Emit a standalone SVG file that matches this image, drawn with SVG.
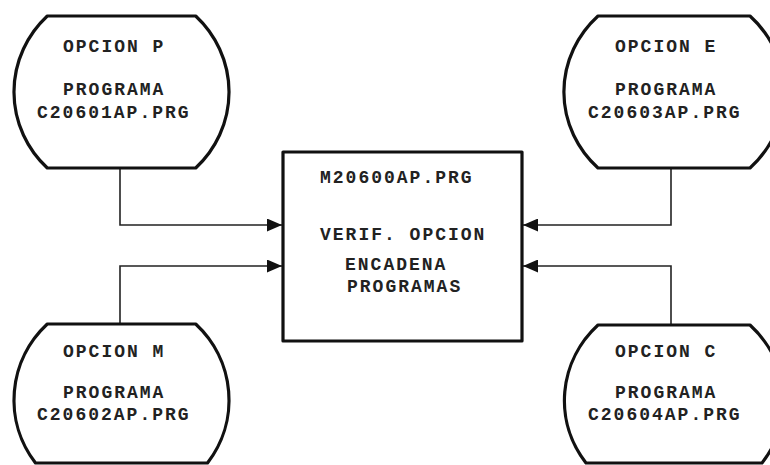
<svg xmlns="http://www.w3.org/2000/svg" width="770" height="465" viewBox="0 0 770 465">
<style>
.shape{fill:#fff;stroke:#111;stroke-width:3.2;stroke-linejoin:round}
.t{font-family:"Liberation Mono","DejaVu Sans Mono",monospace;font-size:18px;font-weight:bold;fill:#222;letter-spacing:2px}
.conn{fill:none;stroke:#222;stroke-width:1.6}
</style>
<defs>
<marker id="arr" viewBox="0 0 15 13" refX="15" refY="6.5" markerWidth="15" markerHeight="13" markerUnits="userSpaceOnUse" orient="auto">
<path d="M0,0 L15,6.5 L0,13 Z" fill="#111"/>
</marker>
</defs>
<rect width="770" height="465" fill="#fff"/>
<g id="connectors">
<path class="conn" d="M120,168 V225 H282" marker-end="url(#arr)"/>
<path class="conn" d="M120,324 V266 H282" marker-end="url(#arr)"/>
<path class="conn" d="M671,168 V225 H523" marker-end="url(#arr)"/>
<path class="conn" d="M671,325 V266 H523" marker-end="url(#arr)"/>
</g>
<g id="node-p">
<path class="shape" d="M47.3,16 H195.7 A107.5,105 0 0 1 195.7,168 H47.3 A107.5,105 0 0 1 47.3,16 Z"/>
<text class="t" x="63" y="52">OPCION P</text>
<text class="t" x="63" y="95">PROGRAMA</text>
<text class="t" x="37" y="118">C20601AP.PRG</text>
</g>
<g id="node-e">
<path class="shape" d="M598,16 H750 A110,105 0 0 1 750,168 H598 A110,105 0 0 1 598,16 Z"/>
<text class="t" x="615" y="52">OPCION E</text>
<text class="t" x="615" y="95">PROGRAMA</text>
<text class="t" x="588" y="118">C20603AP.PRG</text>
</g>
<g id="node-m">
<path class="shape" d="M47.3,324 H195.7 A107.5,105 0 0 1 207.5,463 H35.5 A107.5,105 0 0 1 47.3,324 Z"/>
<text class="t" x="63" y="357">OPCION M</text>
<text class="t" x="63" y="398">PROGRAMA</text>
<text class="t" x="37" y="420">C20602AP.PRG</text>
</g>
<g id="node-c">
<path class="shape" d="M598,325 H750 A110,105 0 0 1 762,463 H586 A110,105 0 0 1 598,325 Z"/>
<text class="t" x="615" y="357">OPCION C</text>
<text class="t" x="615" y="398">PROGRAMA</text>
<text class="t" x="588" y="420">C20604AP.PRG</text>
</g>
<g id="main">
<rect class="shape" x="283" y="152" width="239" height="189"/>
<text class="t" x="320" y="183">M20600AP.PRG</text>
<text class="t" x="320" y="240">VERIF. OPCION</text>
<text class="t" x="345" y="270">ENCADENA</text>
<text class="t" x="347" y="292">PROGRAMAS</text>
</g>
</svg>
